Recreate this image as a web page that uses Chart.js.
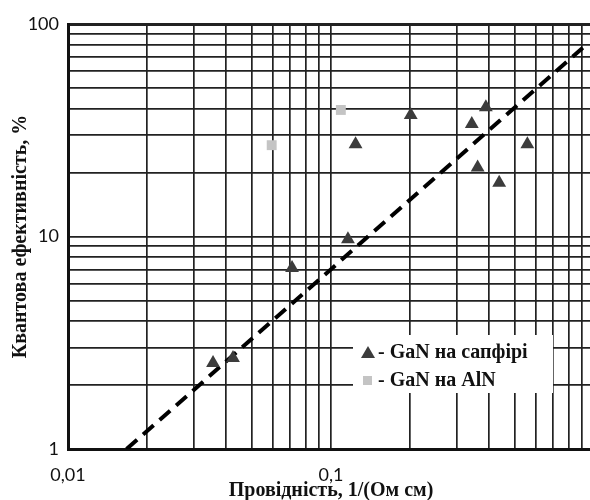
<!DOCTYPE html>
<html>
<head>
<meta charset="utf-8">
<script src="https://cdn.jsdelivr.net/npm/chart.js@4"></script>
<style>
  html, body { margin: 0; padding: 0; background: #fff; overflow: hidden; }
  #wrap { position: absolute; left: 0; top: 0; width: 620px; height: 500px; }
</style>
</head>
<body>
<div id="wrap"><canvas id="chartCanvas"></canvas></div>
<script>
// GaN на сапфірі (triangles): [провідність, квантова ефективність]
const sapphireX = [0.0356, 0.0424, 0.0711, 0.116, 0.124, 0.201, 0.343, 0.388, 0.361, 0.436, 0.558];
const sapphireY = [2.54, 2.68, 7.1, 9.7, 27.2, 37.3, 33.8, 40.6, 21.1, 17.9, 27.2];
// GaN на AlN (squares)
const alnX = [0.0595, 0.109];
const alnY = [26.9, 39.4];
// dashed trend line end points
const fitX = [0.0167, 0.907];
const fitY = [1, 77.4];

// grid / tick values and visible labels
const xTicks = [0.01, 0.02, 0.03, 0.04, 0.05, 0.06, 0.07, 0.08, 0.09,
                0.1, 0.2, 0.3, 0.4, 0.5, 0.6, 0.7, 0.8, 0.9, 1];
const yTicks = [1, 2, 3, 4, 5, 6, 7, 8, 9, 10, 20, 30, 40, 50, 60, 70, 80, 90, 100];
const xLabels = { 0.01: "0,01", 0.1: "0,1", 1: "1" };
const yLabels = { 1: "1", 10: "10", 100: "100" };

const legendItems = ["- GaN на сапфірі", "- GaN на AlN"];

const serif = '"Liberation Serif", "Times New Roman", serif';
const toPoints = (xs, ys) => xs.map((x, i) => ({ x, y: ys[i] }));

// legend drawn as a white box inside the plot (covers the grid like in the original)
const legendBox = {
  id: "legendBox",
  afterDatasetsDraw(chart) {
    const { ctx, chartArea } = chart;
    const left = chartArea.left + 285;
    const top = chartArea.top + 311;
    ctx.save();
    ctx.fillStyle = "#ffffff";
    ctx.fillRect(left, top, 200, 58);
    ctx.font = "bold 20px " + serif;
    ctx.textBaseline = "middle";
    // triangle
    const ty = top + 18;
    ctx.fillStyle = chart.data.datasets[0].backgroundColor;
    ctx.beginPath();
    ctx.moveTo(left + 15, ty - 7);
    ctx.lineTo(left + 22, ty + 5);
    ctx.lineTo(left + 8, ty + 5);
    ctx.closePath();
    ctx.fill();
    ctx.fillStyle = "#111";
    ctx.fillText(legendItems[0], left + 25, ty);
    // square
    const sy = top + 46;
    ctx.fillStyle = chart.data.datasets[1].backgroundColor;
    ctx.fillRect(left + 10, sy - 5, 9, 9);
    ctx.fillStyle = "#111";
    ctx.fillText(legendItems[1], left + 25, sy);
    ctx.restore();
  }
};

const gridColor = "#222";

new Chart(document.getElementById("chartCanvas"), {
  type: "scatter",
  data: {
    datasets: [
      {
        label: legendItems[0],
        data: toPoints(sapphireX, sapphireY),
        pointStyle: "triangle",
        pointRadius: 8,
        backgroundColor: "#3c3c3c",
        borderColor: "#3c3c3c",
        borderWidth: 0
      },
      {
        label: legendItems[1],
        data: toPoints(alnX, alnY),
        pointStyle: "rect",
        pointRadius: 7,
        backgroundColor: "#c4c4c4",
        borderColor: "#c4c4c4",
        borderWidth: 0
      },
      {
        label: "fit",
        data: toPoints(fitX, fitY),
        showLine: true,
        pointRadius: 0,
        borderColor: "#000",
        borderWidth: 4,
        borderDash: [14, 8]
      }
    ]
  },
  options: {
    responsive: true,
    maintainAspectRatio: false,
    animation: false,
    layout: { padding: { top: 24, right: 26, left: 0, bottom: 0 } },
    plugins: {
      legend: { display: false },
      tooltip: { enabled: false }
    },
    scales: {
      x: {
        type: "logarithmic",
        min: 0.01,
        max: 1,
        afterBuildTicks: (axis) => { axis.ticks = xTicks.map(v => ({ value: v })); },
        afterFit: (axis) => { axis.height = 51; },
        grid: { color: gridColor, lineWidth: 1.7, drawTicks: false },
        border: { display: true, color: "#111", width: 3 },
        ticks: {
          autoSkip: false,
          maxRotation: 0,
          padding: 15,
          color: "#111",
          font: { family: "Lato", size: 18 },
          callback: (v) => xLabels[v] || ""
        },
        title: {
          display: true,
          text: "Провідність, 1/(Ом см)",
          color: "#111",
          font: { family: serif, size: 20, weight: "bold", lineHeight: 1 },
          padding: { top: 0, bottom: -1 }
        }
      },
      y: {
        type: "logarithmic",
        min: 1,
        max: 100,
        afterBuildTicks: (axis) => { axis.ticks = yTicks.map(v => ({ value: v })); },
        afterFit: (axis) => { axis.width = 68; },
        grid: {
          color: gridColor,
          lineWidth: (c) => (c.tick && c.tick.value === 100 ? 3 : 1.7),
          drawTicks: false
        },
        border: { display: true, color: "#111", width: 3 },
        ticks: {
          autoSkip: false,
          padding: 9,
          color: "#111",
          font: { family: "Lato", size: 18 },
          callback: (v) => yLabels[v] || ""
        },
        title: {
          display: true,
          text: "Квантова ефективність, %",
          color: "#111",
          font: { family: serif, size: 20, weight: "bold", lineHeight: 1 },
          padding: { top: 11, bottom: 0 }
        }
      }
    }
  },
  plugins: [legendBox]
});
</script>
</body>
</html>
